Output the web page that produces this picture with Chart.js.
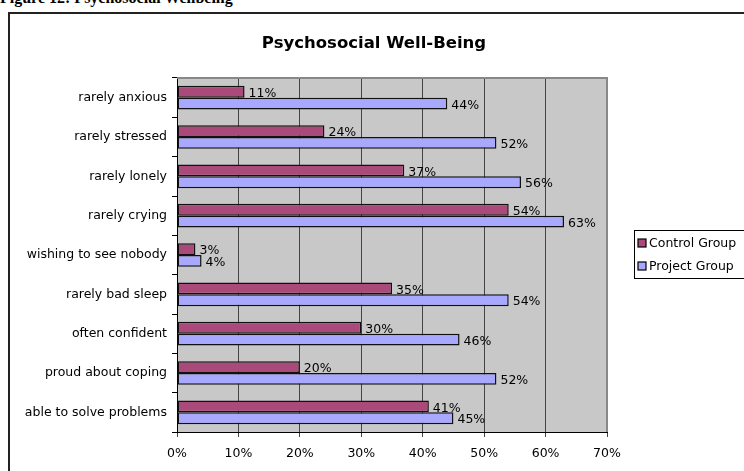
<!DOCTYPE html>
<html lang="en">
<head>
<meta charset="UTF-8">
<title>Psychosocial Well-Being</title>
<script src="https://cdn.jsdelivr.net/npm/chart.js"></script>
<style>
  body { margin: 0; background: #fff; }
  #wrap { position: relative; width: 744px; height: 471px; overflow: hidden; }
  #caption {
    position: absolute; left: 0; top: -11px;
    font: bold 16px "Liberation Serif", serif; color: #000; white-space: nowrap;
  }
  #frame {
    position: absolute; left: 8px; top: 12px; width: 800px; height: 520px;
    border: 2px solid #222; box-sizing: border-box;
  }
  #chart-box { position: absolute; left: 0; top: 0; width: 744px; height: 471px; }
</style>
</head>
<body>
<div id="wrap">
  <div id="caption">Figure 12: Psychosocial Wellbeing</div>
  <div id="frame"></div>
  <div id="chart-box"><canvas id="wellChart"></canvas></div>
</div>
<script>
const categories = [
  'rarely anxious', 'rarely stressed', 'rarely lonely', 'rarely crying',
  'wishing to see nobody', 'rarely bad sleep', 'often confident',
  'proud about coping', 'able to solve problems'
];
const controlGroup = [11, 24, 37, 54, 3, 35, 30, 20, 41];
const projectGroup = [44, 52, 56, 63, 4, 54, 46, 52, 45];
const seriesNames = ['Control Group', 'Project Group'];
const seriesColors = ['#AA4A7A', '#A8A8FF'];
const chartTitle = 'Psychosocial Well-Being';

const FONT = '"DejaVu Sans", sans-serif';
const FS = 12.5;

// grey plot background + border, plus the title centred on the frame
const plotBg = {
  id: 'plotBg',
  beforeDraw(chart) {
    const { ctx, chartArea: a } = chart;
    ctx.save();
    ctx.fillStyle = '#C8C8C8';
    ctx.fillRect(a.left, a.top, a.right - a.left, a.bottom - a.top);
    ctx.restore();
  },
  afterDraw(chart) {
    const { ctx, chartArea: a } = chart;
    ctx.save();
    ctx.strokeStyle = '#888';
    ctx.lineWidth = 2;
    ctx.beginPath();
    ctx.moveTo(a.left, a.top);
    ctx.lineTo(a.right, a.top);
    ctx.lineTo(a.right, a.bottom);
    ctx.stroke();
    ctx.font = 'bold 16.5px ' + FONT;
    ctx.fillStyle = '#000';
    ctx.textAlign = 'center';
    ctx.textBaseline = 'middle';
    ctx.fillText(chartTitle, 374, 44);
    ctx.restore();
  }
};

// value labels at bar ends
const barLabels = {
  id: 'barLabels',
  afterDatasetsDraw(chart) {
    const ctx = chart.ctx;
    ctx.save();
    ctx.font = FS + 'px ' + FONT;
    ctx.fillStyle = '#000';
    ctx.textBaseline = 'middle';
    chart.data.datasets.forEach((ds, i) => {
      chart.getDatasetMeta(i).data.forEach((bar, j) => {
        ctx.fillText(ds.data[j] + '%', bar.x + 4, bar.y + 2);
      });
    });
    ctx.restore();
  }
};

// boxed legend on the right
const boxLegend = {
  id: 'boxLegend',
  afterDraw(chart) {
    const ctx = chart.ctx;
    const x = 634, y = 230, w = 120, h = 48;
    ctx.save();
    ctx.strokeStyle = '#000';
    ctx.lineWidth = 1;
    ctx.strokeRect(x + 0.5, y + 0.5, w, h);
    ctx.font = FS + 'px ' + FONT;
    ctx.textBaseline = 'middle';
    chart.data.datasets.forEach((ds, i) => {
      const cy = y + 13 + i * 23;
      ctx.fillStyle = ds.backgroundColor;
      ctx.fillRect(x + 4, cy - 4, 8, 8);
      ctx.strokeStyle = '#000';
      ctx.lineWidth = 1.2;
      ctx.strokeRect(x + 4, cy - 4, 8, 8);
      ctx.fillStyle = '#000';
      ctx.fillText(ds.label, x + 15, cy + 1);
    });
    ctx.restore();
  }
};

new Chart(document.getElementById('wellChart'), {
  type: 'bar',
  data: {
    labels: categories,
    datasets: [
      { label: seriesNames[0], data: controlGroup, backgroundColor: seriesColors[0] },
      { label: seriesNames[1], data: projectGroup, backgroundColor: seriesColors[1] }
    ]
  },
  options: {
    indexAxis: 'y',
    responsive: true,
    maintainAspectRatio: false,
    animation: false,
    layout: { padding: { left: 9, right: 137, top: 78, bottom: 0 } },
    datasets: {
      bar: {
        categoryPercentage: 0.6,
        barPercentage: 1,
        borderColor: '#111',
        borderWidth: 1.5,
        borderSkipped: false
      }
    },
    plugins: {
      legend: { display: false },
      tooltip: { enabled: false },
      title: { display: false }
    },
    scales: {
      x: {
        min: 0, max: 70,
        afterFit(scale) { scale.height = 39; },
        ticks: {
          stepSize: 10,
          color: '#000',
          padding: 9,
          font: { family: FONT, size: FS },
          callback: v => v + '%'
        },
        grid: { color: '#444', lineWidth: 1, tickLength: 5 },
        border: { display: true, color: '#000', width: 1 }
      },
      y: {
        afterFit(scale) { scale.width = 168; },
        ticks: { color: '#000', padding: 5, font: { family: FONT, size: FS } },
        grid: { drawOnChartArea: false, color: '#000', tickLength: 5, offset: true },
        border: { display: true, color: '#000', width: 1 }
      }
    }
  },
  plugins: [plotBg, barLabels, boxLegend]
});
</script>
</body>
</html>
